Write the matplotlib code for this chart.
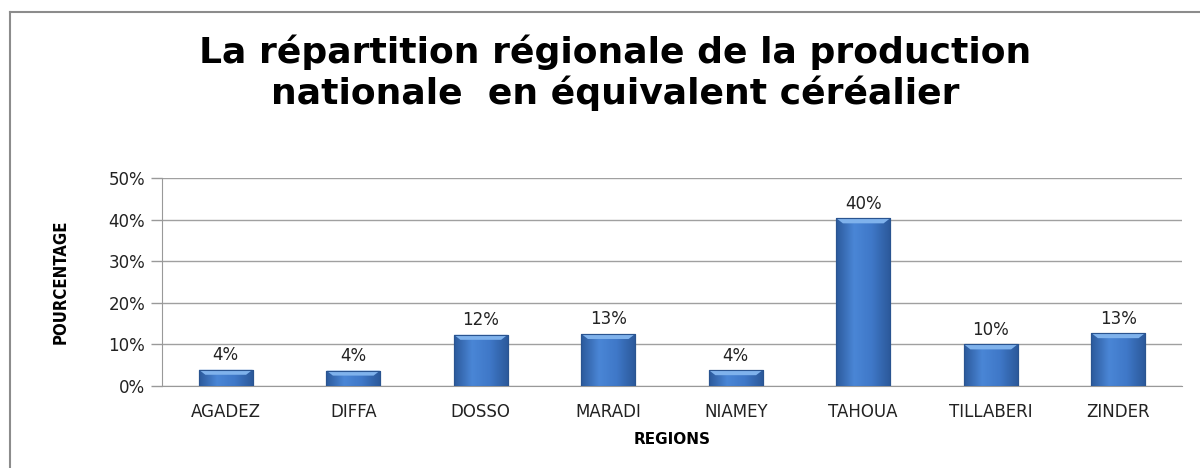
import matplotlib
matplotlib.use("Agg")
import matplotlib.pyplot as plt
import numpy as np
from matplotlib.lines import Line2D
from matplotlib.colors import LinearSegmentedColormap

# data (percent)
regions = ["AGADEZ", "DIFFA", "DOSSO", "MARADI", "NIAMEY", "TAHOUA", "TILLABERI", "ZINDER"]
shares = [3.9, 3.7, 12.3, 12.5, 3.8, 40.3, 10.0, 12.7]
labels = ["4%", "4%", "12%", "13%", "4%", "40%", "10%", "13%"]
yticks = [0, 10, 20, 30, 40, 50]

plt.rcParams['font.family'] = ['DejaVu Sans']

fig = plt.figure(figsize=(12, 4.68), dpi=100)
ax = fig.add_axes([162/1200, 82/468, 1020/1200, 208/468])

x = np.arange(len(regions))
bars = ax.bar(x, shares, width=0.42, color="#3A70C0", edgecolor="#2A5490", linewidth=0.8, zorder=3)

# fake excel bevel: horizontal gradient clipped to each bar, lighter strip on top
cmap = LinearSegmentedColormap.from_list("bev", ["#2C5A9C", "#4A86D6", "#3F78C8", "#2C5A9C"])
grad = np.linspace(0, 1, 64).reshape(1, -1)
for b in bars:
    x0, y0 = b.get_x(), b.get_y()
    w, h = b.get_width(), b.get_height()
    im = ax.imshow(grad, cmap=cmap, aspect="auto", extent=[x0, x0 + w, y0, y0 + h], zorder=3.5)
    im.set_clip_path(b)
    ax.add_patch(plt.Polygon([[x0, y0 + h], [x0 + w, y0 + h], [x0 + w * 0.88, y0 + h - 1.2],
                              [x0 + w * 0.12, y0 + h - 1.2]], closed=True,
                             facecolor="#7FB2EC", edgecolor="none", zorder=4))
    ax.add_patch(plt.Rectangle((x0, y0), w, h, fill=False, edgecolor="#2A5490", linewidth=0.8, zorder=4.5))

for xi, v, lab in zip(x, shares, labels):
    ax.annotate(lab, (xi, v), xytext=(0, 4), textcoords="offset points",
                ha="center", va="bottom", fontsize=12, color="#222222")

ax.set_xlim(-0.5, len(regions) - 0.5)
ax.set_ylim(0, 50)
ax.set_yticks(yticks)
ax.set_yticklabels([f"{t}%" for t in yticks], fontsize=12, color="#222222")
ax.set_xticks(x)
ax.set_xticklabels(regions, fontsize=12, color="#222222")
ax.tick_params(axis="x", length=0, pad=12)
ax.tick_params(axis="y", length=8, color="#999999", width=1, pad=4)
ax.yaxis.grid(True, color="#A0A0A0", linewidth=1)
ax.set_axisbelow(True)
for s in ["top", "right"]:
    ax.spines[s].set_visible(False)
ax.spines["left"].set_color("#999999")
ax.spines["bottom"].set_color("#999999")

ax.set_xlabel("REGIONS", fontsize=11, fontweight="bold", labelpad=8)
ax.set_ylabel("POURCENTAGE", fontsize=12, fontweight="bold", labelpad=28, fontstretch="condensed")

fig.text(0.5125, 1 - 73/468, "La répartition régionale de la production\nnationale  en équivalent céréalier",
         ha="center", va="center", fontsize=26, fontweight="bold", linespacing=1.2)

# outer chart frame (left and top only visible)
fig.add_artist(Line2D([10/1200, 10/1200], [0, 1 - 12/468], transform=fig.transFigure, color="#8C8C8C", linewidth=1.5))
fig.add_artist(Line2D([10/1200, 1], [1 - 12/468, 1 - 12/468], transform=fig.transFigure, color="#8C8C8C", linewidth=1.5))

fig.savefig("out.png", dpi=100)
